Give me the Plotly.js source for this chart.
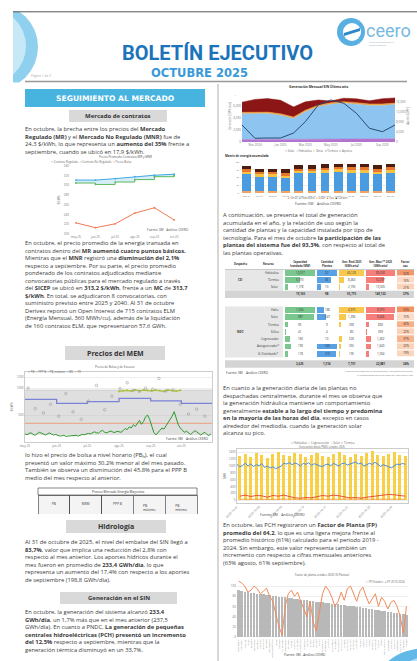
<!DOCTYPE html>
<html><head><meta charset="utf-8">
<script src="https://cdn.plot.ly/plotly-3.0.1.min.js"></script>
<style>html,body{margin:0;padding:0;background:#fff;overflow:hidden}#chart{width:417px;height:661px}</style>
</head><body><div id="chart"></div>
<script>
// ---------------- DATA ----------------
// Chart 1: contratos
const contractMonths=['may-25','jun-25','jul-25','ago-25','sep-25','oct-25'];
const mrPrice=[311,311,314,318,321,323];
const mnrPrice=[305,302,307,312,318,320];
const bolsaPrice=[223,213,221,243,254,229];

// Chart 2: precios MEM
const pbDaily=[150,135,160,170,140,125,155,180,165,140,130,150,170,145,130,140,
120,110,115,125,105,110,120,115,130,125,110,120,140,135,150,
160,150,175,190,170,165,200,215,180,170,190,205,185,175,200,
190,180,210,250,230,280,260,320,290,350,400,330,380,470,500,420,
300,180,130,170,220,260,240,300,350,420,480,563,450,320,260,
220,180,200,160,140,170,210,190,150,130,160,180,140,120,150];
const mcMonths=['2025-05-01','2025-06-01','2025-07-01','2025-08-01','2025-09-01','2025-10-01','2025-10-31'];
const mcValues=[793,719,750,812,762,719,719];
const memTickLabels=['may-25','jun-25','jul-25','ago-25','sep-25','oct-25'];
const peDates=['2025-05-01','2025-10-31'];
const peValues=[347,347];
const bandDates=['2025-05-01','2025-10-31'];
const bandLow=[130,130];
const bandHigh=[965,965];
const pbMaxDates=['2025-05-04','2025-05-11','2025-05-19','2025-05-26','2025-06-03','2025-06-10','2025-06-17','2025-06-25','2025-07-02','2025-07-10','2025-07-18','2025-07-25','2025-08-02','2025-08-09','2025-08-15','2025-08-21','2025-08-27','2025-09-03','2025-09-09','2025-09-16','2025-09-23','2025-09-30','2025-10-08','2025-10-16','2025-10-24'];
const pbMaxValues=[1000,620,540,700,480,900,560,420,760,1050,600,850,990,1100,960,940,1000,980,1180,950,970,700,520,610,480];
const pppDates=['2025-08-01','2025-08-05','2025-08-09','2025-08-13','2025-08-17','2025-08-21','2025-08-25','2025-08-29','2025-09-02','2025-09-06','2025-09-10','2025-09-14','2025-09-18','2025-09-22','2025-09-26','2025-09-30'];
const pppValues=[940,955,960,945,970,950,965,958,948,962,955,940,968,952,945,960];

// MEM table
const memTableHeader=['PB','MEM','PPP B','PB máximo','PB mínimo'];
const memTableValues=['317,62 $/kWh','301,35 $/kWh','193,33 $/kWh','551,88 $/kWh','180,90 $/kWh'];

// Chart 3: generación mensual SIN
const genMonths=['2024-10-01','2024-11-01','2024-12-01','2025-01-01','2025-02-01','2025-03-01','2025-04-01','2025-05-01','2025-06-01','2025-07-01','2025-08-01','2025-09-01','2025-10-01'];
const genSolar=[420,440,450,460,470,480,500,510,520,530,540,550,560];
const genHydro=[4280,4280,4280,4000,3450,4550,5380,5780,5950,5780,5550,5550,5670];
const genOther=[250,250,250,250,250,250,250,250,250,250,250,250,250];
const genThermal=[1680,2130,2250,2250,1680,1420,870,300,580,630,530,870,870];
const aportesMonthly=[6800,1480,1600,1600,3600,8120,14800,16800,15480,11480,5480,4120,6800];

// Chart 4: matriz acumulada (barras apiladas)
const barMonths=['nov-24','dic-24','ene-25','feb-25','mar-25','abr-25','may-25','jun-25','jul-25','ago-25','sep-25','oct-25'];
const barOtras=[5,5,5,5,5,5,5,5,5,5,5,5];
const barHidraulica=[55,48,48,42,58,58,61,63,61,61,55,61];
const barSolar=[8,8,8,9,8,8,8,8,9,9,9,9];
const barGas=[8,8,8,9,8,8,8,9,9,9,9,8];
const barCarbon=[10,10,10,11,10,10,10,10,11,11,11,10];

// Table (plantas)
const tableHeader=['Despacho','Recurso','Capacidad<br>Instalada [MW]','Cantidad<br>Plantas','Gen. Real 2025<br>[GWh-año]','Gen. Max.** 2025<br>[GWh-año]','Factor<br>uso'];
const recursoCD=['Hidráulica','Térmica','Solar'];
const capCD=[12017,5970,1178];
const plantasCD=[52,36,10];
const genRealCD=[45120,8460,2195];
const genMaxCD=[86500,52297,10325];
const factorCD=[52,16,21];
const factorTotalCD=37;
const recursoNDC=['Hidro','Solar','Térmica','Eólica','Cogenerador','Autogenerador*','G. Distribuido*'];
const capNDC=[1034,987,95,41,160,190,118];
const plantasNDC=[186,247,9,4,13,545,510];
const genRealNDC=[4975,1296,330,80,520,355,195];
const genMaxNDC=[8970,8646,830,359,1402,1640,1034];
const factorNDC=[55,15,40,22,37,22,19];
const factorTotalNDC=34;

// Chart 5: generación diaria PNDC
const solarPeak=[1300,1350,1280,1380,1320,1250,1360,1400,1310,1290,1370,1340,1260,1330,1390,1300,1280,1350,1420,1320,1270,1360,1300,1380,1450,1310,1290,1340,1400,1330,1300];
const hydroHalfDaily=[1050,980,1020,1080,1000,1060,990,1040,1010,1070,960,1000,940,980,920,960,1000,1080,1060,1100,1040,1090,1060,1000,1080,1050,1100,1020,1070,1040,1000,990,1040,1060,1010,1080,1050,1000,1070,1090,1030,1060,1100,1120,1060,1090,1000,1040,1080,1050,1110,1060,990,1040,1000,980,950,1000,1060,1040,1080,1050];
const thermalDaily=[120,150,110,140,130,90,140,120,150,100,70,60,80,70,110,140,120,150,130,90,70,80,60,90,110,130,150,170,160,140,120];
const cogenDaily=[30,35,28,32,30,25,33,30,28,35,30,27,32,29,31,34,30,28,33,30,29,32,30,28,31,33,30,29,32,31,30];

// Chart 6: factor de planta PCH
const plantNames=['Agua Fresca','Alejandría','Amaime','Ayurá','Barroso','Bajo Tuluá','Caruquia','Cucuana','El Molino','El Popal','Guanaquitas','Hidromontañitas','Ínsula','Karmata','La Cascada','La Herradura','La Vuelta','Luzma I','Luzma II','Mirolindo','Montañitas','Mulatos II','Nariño','Niquía','Palmas','Pajarito','Patico','Providencia','Riogrande I','Río Frío','Río Piedras','Rionegro','San Antonio','San Cancio','San José','San Matías','Santa Ana','Santa Rita','Santiago','Sonsón','Sueva II','Tunjita','Urrao','Ventana A','Ventana B','Caracolí','Coello','Darío Valencia','Esmeralda','Florida II','Guacaica','Intermedia','Juan García','Laguneta','Cemex'];
const fpHist=[92,91,89,88,87,86,85,84,84,83,82,81,80,79,78,78,77,76,75,74,73,73,72,71,70,69,69,68,67,66,65,65,64,63,62,61,60,60,59,58,57,56,55,55,54,53,52,51,50,49,48,47,46,45,43];
const fpOct=[110,106,100,88,92,100,95,85,90,96,80,70,45,20,4,60,85,92,80,88,70,55,40,70,30,12,50,85,100,92,78,60,70,88,72,95,100,86,70,90,98,80,65,75,85,60,78,70,55,68,72,60,40,8,60];

// ---------------- HELPERS ----------------
const W=417,H=661;
const X=p=>p/W, Y=p=>1-p/H;
const dom=(a,b)=>[X(a),X(b)];
const domY=(top,bot)=>[Y(bot),Y(top)];
const FONT='Open Sans';
const TXT='#3a3a3a';
const tf=(s,c)=>({family:FONT,size:s,color:c||'#777'});
function ax(o){return Object.assign({showgrid:false,zeroline:false,showline:false,ticks:'',tickfont:tf(3),fixedrange:true,automargin:false},o);}
function T(x,y,text,o){return Object.assign({xref:'paper',yref:'paper',x:X(x),y:Y(y),text:text,showarrow:false,font:tf(5.8,TXT),xanchor:'left',yanchor:'middle',align:'left',borderpad:0,borderwidth:0},o||{});}
function para(x,top,lines){return T(x,top,lines.join('<br>'),{yanchor:'top'});}
function leg(x,y,items,anchor){return T(x,y,items.map(it=>`<span style="color:${it[0]}">${it[2]||'━'}</span> ${it[1]}`).join('  '),{font:tf(2.8,'#666'),xanchor:anchor||'left'});}
function box(x0,y0,x1,y1,fill,lineColor){return {type:'rect',xref:'paper',yref:'paper',x0:X(x0),x1:X(x1),y0:Y(y0),y1:Y(y1),fillcolor:fill,line:{width:lineColor?0.6:0,color:lineColor||fill}};}
const fmt=v=>v.toLocaleString('en-US');
const sum=a=>a.reduce((s,v)=>s+v,0);

const traces=[];
const layout={width:W,height:H,margin:{l:0,r:0,t:0,b:0},paper_bgcolor:'#fff',plot_bgcolor:'rgba(0,0,0,0)',
  showlegend:false,barmode:'stack',bargap:0.2,font:{family:FONT,size:4,color:'#555'},shapes:[],annotations:[]};
const S=layout.shapes, A=layout.annotations;

// ---------------- CHART 1 ----------------
traces.push({type:'scatter',mode:'lines+markers',x:contractMonths,y:mnrPrice,xaxis:'x',yaxis:'y',line:{color:'#5cb85c',width:1,shape:'hv'},marker:{size:1.8}});
traces.push({type:'scatter',mode:'lines+markers',x:contractMonths,y:mrPrice,xaxis:'x',yaxis:'y',line:{color:'#3fa9e0',width:1},marker:{size:1.8},fill:'tonexty',fillcolor:'rgba(140,205,240,0.35)'});
traces.push({type:'scatter',mode:'lines+markers',x:contractMonths,y:bolsaPrice,xaxis:'x',yaxis:'y',line:{color:'#f07a55',width:1},marker:{size:1.8}});
layout.xaxis=ax({domain:dom(70,180),anchor:'y',type:'category',range:[-0.3,5.3]});
layout.yaxis=ax({domain:domY(166,234),anchor:'x',range:[200,340],dtick:20,title:{text:'$/kWh',font:tf(3),standoff:3}});
A.push(T(125,157,'Precio Promedio Contratos MR y MNR',{font:tf(3,'#555'),xanchor:'center'}));
A.push(leg(50,162.5,[['#3fa9e0','Contrato Regulado'],['#5cb85c','Contrato No Regulado'],['#f07a55','Precio Bolsa']]));
A.push(T(168,230,'Fuente: XM   Análisis CEERO',{font:tf(3.2,'#555'),xanchor:'center'}));

// ---------------- CHART 2 (MEM) ----------------
const memDates=pbDaily.map((_,i)=>new Date(Date.UTC(2025,4,1)+i*2*864e5).toISOString().slice(0,10));
traces.push({type:'scatter',mode:'lines',x:bandDates,y:bandLow,xaxis:'x2',yaxis:'y2',line:{width:0,color:'#bbb'}});
traces.push({type:'scatter',mode:'lines',x:bandDates,y:bandHigh,xaxis:'x2',yaxis:'y2',line:{width:0.5,color:'#bbb'},fill:'tonexty',fillcolor:'rgba(185,185,185,0.45)'});
traces.push({type:'scatter',mode:'lines',x:mcMonths,y:mcValues,xaxis:'x2',yaxis:'y2',line:{color:'#7b83d9',width:1.3,shape:'hv'}});
traces.push({type:'scatter',mode:'lines',x:peDates,y:peValues,xaxis:'x2',yaxis:'y2',line:{color:'#ee8f6a',width:0.8}});
traces.push({type:'scatter',mode:'lines+markers',x:pppDates,y:pppValues,xaxis:'x2',yaxis:'y2',line:{color:'#a8c23a',width:1.2},marker:{size:2,color:'#a8c23a'}});
traces.push({type:'scatter',mode:'markers',x:pbMaxDates,y:pbMaxValues,xaxis:'x2',yaxis:'y2',marker:{size:2.5,color:'rgba(0,0,0,0)',line:{color:'#999',width:0.6}}});
traces.push({type:'scatter',mode:'lines',x:memDates,y:pbDaily,xaxis:'x2',yaxis:'y2',line:{color:'#2e9a2e',width:1}});
layout.xaxis2=ax({domain:dom(25,212),anchor:'y2',type:'date',range:['2025-05-01','2025-10-31'],tickvals:mcMonths.slice(0,6),ticktext:memTickLabels,showline:true,linecolor:'#ccc',mirror:true});
layout.yaxis2=ax({domain:domY(372,442),anchor:'x2',range:[0,1300],tickvals:[500,1000,1200],showgrid:true,gridcolor:'#eee',showline:true,linecolor:'#ccc',mirror:true,title:{text:'$/kWh',font:tf(3),standoff:3}});
A.push(T(115,367,'Precio de Bolsa y de Escasez',{font:tf(3,'#555'),xanchor:'center'}));
A.push(leg(27,371.5,[['#2e9a2e','PB'],['#a8c23a','PPP B'],['#999','PB_máximo','○'],['#7b83d9','MC'],['#ee8f6a','PE']]));
A.push(T(208,439.5,'Fuente: XM    Análisis CEERO',{font:tf(3.2,'#444'),xanchor:'right',bgcolor:'#fff'}));

// MEM table
traces.push({type:'table',domain:{x:dom(38,197),y:domY(495,515)},
  header:{values:memTableHeader,height:12,align:'center',font:tf(3.3,'#333'),fill:{color:'#f4f4f4'},line:{color:'#333',width:0.6}},
  cells:{values:memTableValues.map(v=>[v]),height:7,align:'center',font:tf(3.2,'#333'),fill:{color:'#fff'},line:{color:'#333',width:0.6}}});
S.push(box(38,488,197,495,'#fff','#333'));
A.push(T(117.5,491.5,'Precios Mercado Energía Mayorista',{font:tf(3.2,'#333'),xanchor:'center'}));

// ---------------- CHART 3 (Gen mensual) ----------------
const genCols=['#b374cf','#8ec5f0','#f3a33b','#8c1515'];
[genSolar,genHydro,genOther,genThermal].forEach((s,i)=>traces.push({type:'scatter',mode:'lines',x:genMonths,y:s,xaxis:'x3',yaxis:'y3',stackgroup:'g',line:{width:0.5,color:genCols[i]},fillcolor:genCols[i]}));
traces.push({type:'scatter',mode:'lines',x:genMonths,y:aportesMonthly,xaxis:'x3',yaxis:'y4',line:{color:'#2b4a73',width:1}});
layout.xaxis3=ax({domain:dom(242,395),anchor:'y3',type:'date',range:['2024-10-01','2025-10-01'],dtick:'M2',tickformat:'%b %Y'});
layout.yaxis3=ax({domain:domY(90,142),anchor:'x3',range:[0,8667],dtick:2000,tickformat:',',showgrid:true,gridcolor:'#eee',title:{text:'Generación [GWh-mes]',font:tf(2.6),standoff:2}});
layout.yaxis4=ax({domain:domY(90,142),anchor:'x3',overlaying:'y3',side:'right',range:[0,20800],dtick:4000,tickformat:',',title:{text:'Aportes [GWh]',font:tf(2.6),standoff:2}});
A.push(T(318,87,'<b>Generación Mensual SIN Último año</b>',{font:tf(3.3,'#333'),xanchor:'center'}));
A.push(leg(318,151,[['#b374cf','Solar'],['#8ec5f0','Hidráulica'],['#f3a33b','Otras'],['#8c1515','Térmica'],['#2b4a73','Aportes']],'center'));

// ---------------- CHART 4 (bars) ----------------
const barCols=['#f4a261','#4a9be0','#f6c244','#e8772e','#4b1d12'];
[barOtras,barHidraulica,barSolar,barGas,barCarbon].forEach((s,i)=>traces.push({type:'bar',x:barMonths,y:s,xaxis:'x4',yaxis:'y5',width:0.68,marker:{color:barCols[i]}}));
layout.xaxis4=ax({domain:dom(240,397),anchor:'y5',type:'category',tickfont:tf(2.5)});
layout.yaxis5=ax({domain:domY(162,193),anchor:'x4',range:[0,100],dtick:25,showgrid:true,gridcolor:'#eee',tickfont:tf(2.5)});
A.push(T(225,156,'<b>Matriz de energía acumulada</b>',{font:tf(3,'#333')}));
A.push(leg(318,198,[['#f4a261','Otras','■'],['#4a9be0','Hidráulica','■'],['#f6c244','Solar','■'],['#e8772e','Gas','■'],['#4b1d12','Carbón','■']],'center'));
A.push(T(318,203,'Fuente: XM    Análisis CEERO',{font:tf(3.5,'#444'),xanchor:'center'}));

// ---------------- TABLE ----------------
const colDefs=[{x0:285,x1:315,c:'rgba(99,190,123,0.85)'},{x0:317,x1:337,c:'rgba(60,145,225,0.85)'},{x0:339,x1:364,c:'rgba(247,194,60,0.9)'},{x0:366,x1:395,c:'rgba(244,105,100,0.85)'}];
const factorCol={x0:397,x1:414};
const headerCenters=[240,268,300,327,351.5,380.5,405.5];
tableHeader.forEach((h,i)=>A.push(T(headerCenters[i],264,'<b>'+h+'</b>',{font:tf(2.7,'#333'),xanchor:'center',align:'center'})));
S.push({type:'line',xref:'paper',yref:'paper',x0:X(225),x1:X(414),y0:Y(269.5),y1:Y(269.5),line:{color:'#999',width:0.5}});
const sections=[
  {name:'CD',yax:'y6',dom:[269.5,298],range:[3.51,-0.5],rec:recursoCD,cols:[capCD,plantasCD,genRealCD,genMaxCD],fac:factorCD,facT:factorTotalCD,tot:3,xs:5},
  {name:'NDC',yax:'y7',dom:[306.3,368],range:[7.95,-0.5],rec:recursoNDC,cols:[capNDC,plantasNDC,genRealNDC,genMaxNDC],fac:factorNDC,facT:factorTotalNDC,tot:7.4,xs:10}
];
sections.forEach(sec=>{
  const n=sec.rec.length, idx=sec.rec.map((_,i)=>i);
  layout['yaxis'+sec.yax.slice(1)]={domain:domY(sec.dom[0],sec.dom[1]),range:sec.range,visible:false,fixedrange:true};
  S.push({type:'rect',xref:'paper',yref:sec.yax,x0:X(225),x1:X(283),y0:-0.5,y1:n-0.5,fillcolor:'#e7e7e7',line:{width:0},layer:'below'});
  S.push({type:'rect',xref:'paper',yref:sec.yax,x0:X(225),x1:X(414),y0:sec.tot-0.5,y1:sec.tot+0.5,fillcolor:'#d4d4d4',line:{width:0},layer:'below'});
  sec.cols.forEach((vals,j)=>{
    const id=sec.xs+j, cd=colDefs[j];
    layout['xaxis'+id]={domain:dom(cd.x0,cd.x1),range:[0,Math.max(...vals)],visible:false,fixedrange:true,anchor:sec.yax};
    traces.push({type:'bar',orientation:'h',x:vals,y:idx,xaxis:'x'+id,yaxis:sec.yax,width:0.8,marker:{color:cd.c}});
    vals.forEach((v,i)=>A.push({xref:'paper',yref:sec.yax,x:X((cd.x0+cd.x1)/2),y:i,text:fmt(v),showarrow:false,font:tf(2.9,'#333'),xanchor:'center',yanchor:'middle'}));
    A.push({xref:'paper',yref:sec.yax,x:X((cd.x0+cd.x1)/2),y:sec.tot,text:'<b>'+fmt(sum(vals))+'</b>',showarrow:false,font:tf(2.9,'#333'),xanchor:'center',yanchor:'middle'});
  });
  const fid=sec.xs+4;
  layout['xaxis'+fid]={domain:dom(factorCol.x0,factorCol.x1),range:[-0.5,0.5],visible:false,fixedrange:true,anchor:sec.yax};
  traces.push({type:'heatmap',z:sec.fac.map(v=>[v]),x:[0],y:idx,xaxis:'x'+fid,yaxis:sec.yax,zmin:0,zmax:60,showscale:false,ygap:1,
    colorscale:[[0,'#fff4ec'],[0.5,'#f9c4a4'],[1,'#ef8a57']],texttemplate:'%{z}%',textfont:tf(2.9,'#333')});
  A.push({xref:'paper',yref:sec.yax,x:X(405.5),y:sec.tot,text:'<b>'+sec.facT+'%</b>',showarrow:false,font:tf(2.9,'#333'),xanchor:'center',yanchor:'middle'});
  sec.rec.forEach((r,i)=>A.push({xref:'paper',yref:sec.yax,x:X(281),y:i,text:r,showarrow:false,font:tf(2.9,'#333'),xanchor:'right',yanchor:'middle'}));
  A.push({xref:'paper',yref:sec.yax,x:X(240),y:(n-1)/2,text:'<b>'+sec.name+'</b>',showarrow:false,font:tf(3,'#333'),xanchor:'center',yanchor:'middle'});
});
A.push(T(226,373,'Fuente: XM    Análisis CEERO',{font:tf(3.2,'#444')}));
A.push(T(414,371.5,'* Energía entregada por autogeneradores y generación distribuida',{font:tf(2.2,'#777'),xanchor:'right'}));
A.push(T(414,375.5,'** Considerando factor de planta del 100% para el año',{font:tf(2.2,'#777'),xanchor:'right'}));

// ---------------- CHART 5 (daily) ----------------
const dayNoon=solarPeak.map((_,i)=>new Date(Date.UTC(2025,9,1+i,12)).toISOString());
const halfDay=hydroHalfDaily.map((_,i)=>new Date(Date.UTC(2025,9,1)+i*12*3600e3).toISOString());
traces.push({type:'bar',x:dayNoon,y:solarPeak,xaxis:'x17',yaxis:'y8',width:0.55*864e5,marker:{color:'#f7d046'}});
traces.push({type:'scatter',mode:'lines',x:halfDay,y:hydroHalfDaily,xaxis:'x17',yaxis:'y8',line:{color:'#4a8fdb',width:1}});
traces.push({type:'scatter',mode:'lines',x:dayNoon,y:thermalDaily,xaxis:'x17',yaxis:'y8',line:{color:'#e8412c',width:0.9}});
traces.push({type:'scatter',mode:'lines',x:dayNoon,y:cogenDaily,xaxis:'x17',yaxis:'y8',line:{color:'#f39c34',width:0.9}});
layout.xaxis17=ax({domain:dom(237,408),anchor:'y8',type:'date',range:['2025-10-01','2025-11-01'],tick0:'2025-10-01',dtick:4*864e5,tickformat:'%Y-%m-%d',tickangle:-45,showline:true,linecolor:'#ccc',mirror:true});
layout.yaxis8=ax({domain:domY(449,503),anchor:'x17',range:[-80,1500],tickvals:[0,200,400,600,800,1000,1200,1400],showgrid:true,gridcolor:'#eee',showline:true,linecolor:'#ccc',mirror:true,title:{text:'MW',font:tf(3),standoff:2}});
A.push(leg(322,442.5,[['#4a8fdb','Hidráulica'],['#f39c34','Cogeneración'],['#f7d046','Solar'],['#e8412c','Térmica']],'center'));
A.push(T(322,446.5,'Generación diaria PNDC octubre 2025',{font:tf(2.6,'#666'),xanchor:'center'}));
A.push(T(282,514,'Fuente: XM    Análisis CEERO',{font:tf(3.4,'#444'),xanchor:'center'}));

// ---------------- CHART 6 (FP) ----------------
traces.push({type:'bar',x:plantNames,y:fpHist,xaxis:'x18',yaxis:'y9',width:0.8,marker:{color:'#b8b8b8'}});
traces.push({type:'scatter',mode:'lines',x:plantNames,y:fpOct,xaxis:'x18',yaxis:'y9',line:{color:'#f28a5a',width:1}});
layout.xaxis18=ax({domain:dom(237,408),anchor:'y9',type:'category',tickangle:-90,tickfont:tf(2.3,'#777')});
layout.yaxis9=ax({domain:domY(580,638),anchor:'x18',range:[-2,112],tickvals:[0,20,40,60,80,100],ticksuffix:'%',showgrid:true,gridcolor:'#eee'});
A.push(T(322,574.5,'Factor de planta octubre 2025 (% Plantas)',{font:tf(2.8,'#555'),xanchor:'center'}));
A.push(leg(405,582,[['#f28a5a','FP Octubre'],['#b8b8b8','FP 2019-2024','■']],'right'));
A.push(T(305,655,'Fuente: XM - Análisis CEERO',{font:tf(3.2,'#444'),xanchor:'center'}));

// ---------------- PAGE DECORATION & HEADER ----------------
S.push({type:'circle',xref:'paper',yref:'paper',x0:X(-48),x1:X(38),y0:Y(90),y1:Y(4),fillcolor:'#8fd0ee',line:{width:0}});
S.push({type:'circle',xref:'paper',yref:'paper',x0:X(-50),x1:X(26),y0:Y(84),y1:Y(8),fillcolor:'#c6e8f7',line:{width:0}});
S.push({type:'rect',xref:'paper',yref:'paper',x0:0,x1:X(13),y0:Y(95),y1:1,fillcolor:'#fff',line:{width:0}});
S.push({type:'rect',xref:'paper',yref:'paper',x0:0,x1:1,y0:Y(11.5),y1:1,fillcolor:'#fff',line:{width:0}});
S.push({type:'line',xref:'paper',yref:'paper',x0:X(13),x1:1,y0:Y(11.8),y1:Y(11.8),line:{color:'#555',width:1}});
S.push({type:'rect',xref:'paper',yref:'paper',x0:0,x1:1,y0:Y(95),y1:Y(82.5),fillcolor:'#fff',line:{width:0}});
S.push({type:'line',xref:'paper',yref:'paper',x0:X(25),x1:X(407),y0:Y(81.5),y1:Y(81.5),line:{color:'#999',width:1.3}});
// logo
S.push({type:'circle',xref:'paper',yref:'paper',x0:X(337),x1:X(365),y0:Y(46),y1:Y(18),fillcolor:'#5aafe2',line:{width:0}});
S.push({type:'circle',xref:'paper',yref:'paper',x0:X(343),x1:X(361),y0:Y(41),y1:Y(23),fillcolor:'#ffffff',line:{width:0}});
S.push({type:'path',xref:'paper',yref:'paper',path:`M ${X(344)} ${Y(33)} L ${X(360)} ${Y(28)} L ${X(360)} ${Y(31)} L ${X(344)} ${Y(36)} Z`,fillcolor:'#2f86c9',line:{width:0}});
A.push(T(366,30,'ceero',{font:{family:'Roboto',size:18,color:'#79b9e0'}}));
A.push(T(369,44,'Centro de Estudios para la<br>Energía Renovable',{font:tf(2,'#9ab'),align:'left'}));
// bottom-right swoosh
S.push({type:'circle',xref:'paper',yref:'paper',x0:X(372),x1:X(480),y0:Y(740),y1:Y(648),fillcolor:'#62b9e8',line:{width:0}});
S.push({type:'circle',xref:'paper',yref:'paper',x0:X(385),x1:X(480),y0:Y(740),y1:Y(656),fillcolor:'#b5e0f5',line:{width:0}});
// divider
S.push({type:'line',xref:'paper',yref:'paper',x0:X(218),x1:X(218),y0:Y(84),y1:0,line:{color:'#9a9a9a',width:0.8}});

A.push(T(217,52.5,'<b>BOLETÍN EJECUTIVO</b>',{font:{family:'Roboto',size:20,color:'#1b74bb'},xanchor:'center'}));
A.push(T(199,73,'<b>OCTUBRE 2025</b>',{font:{family:'DejaVu Sans',size:11.5,color:'#3a99d8'},xanchor:'center'}));
A.push(T(31,76,'Página 1 de 2',{font:tf(3.2,'#aaa')}));

// section boxes
S.push(box(25,89,205,107,'#47b3df'));
A.push(T(115,98.5,'<b>SEGUIMIENTO AL MERCADO</b>',{font:{family:'DejaVu Sans',size:7.6,color:'#fff'},xanchor:'center'}));
S.push(box(69,110,167,122,'#d9d9d9'));
A.push(T(118,116.3,'<b>Mercado de contratos</b>',{font:tf(6,'#333'),xanchor:'center'}));
S.push(box(65,346,165,360,'#d9d9d9'));
A.push(T(115,353.2,'<b>Precios del MEM</b>',{font:tf(7,'#333'),xanchor:'center'}));
S.push(box(66,520,166,533,'#d9d9d9'));
A.push(T(116,526.7,'<b>Hidrología</b>',{font:tf(7,'#333'),xanchor:'center'}));
S.push(box(60,592,177,604,'#d9d9d9'));
A.push(T(118.5,598,'<b>Generación en el SIN</b>',{font:tf(6,'#333'),xanchor:'center'}));

// paragraphs
A.push(para(25,124.5,[
'En octubre, la brecha entre los precios del <b>Mercado</b>',
'<b>Regulado (MR)</b> y el <b>Mercado No Regulado (MNR)</b> fue de',
'24,3 $/kWh, lo que representa un <b>aumento del 35%</b> frente a',
'septiembre, cuando se ubicó en 17,9 $/kWh.']));
A.push(para(25,239,[
'En octubre, el precio promedio de la energía transada en',
'contratos dentro del <b>MR aumentó cuatro puntos básicos.</b>',
'Mientras que el <b>MNR</b> registró una <b>disminución del 2,1%</b>',
'respecto a septiembre. Por su parte, el precio promedio',
'ponderado de los contratos adjudicados mediante',
'convocatorias públicas para el mercado regulado a través',
'del <b>SICEP</b> se ubicó en <b>313,2 $/kWh</b>, frente a un <b>MC</b> de <b>313,7</b>',
'<b>$/kWh</b>. En total, se adjudicaron 8 convocatorias, con',
'suministro previsto entre 2025 y 2040. Al 31 de octubre',
'Derivex reportó un Open Interest de 715 contratos ELM',
'(Energía Mensual, 360 MWh/cu), además de la liquidación',
'de 160 contratos ELM, que representaron 57,6 GWh.']));
A.push(para(25,450.5,[
'lo hizo el precio de bolsa a nivel horario (PB<sub>h</sub>), el cual',
'presentó un valor máximo 30,2% menor al del mes pasado.',
'También se observa un disminución del 45,8% para el PPP B',
'medio del mes respecto al anterior.']));
A.push(para(25,538,[
'Al 31 de octubre de 2025, el nivel del embalse del SIN llegó a',
'<b>83,7%</b>, valor que implica una reducción del 2,8% con',
'respecto al mes anterior. Los aportes hídricos durante el',
'mes fueron en promedio de <b>233,4 GWh/día</b>, lo que',
'representa un aumento del 17,4% con respecto a los aportes',
'de septiembre (198,8 GWh/día).']));
A.push(para(25,608,[
'En octubre, la generación del sistema alcanzó <b>233,4</b>',
'<b>GWh/día</b>, un 1,7% más que en el mes anterior (237,5',
'GWh/día). En cuanto a PNDC, <b>La generación de pequeñas</b>',
'<b>centrales hidroeléctricas (PCH) presentó un incremento</b>',
'<b>del 12,5%</b> respecto a septiembre, mientras que la',
'generación térmica disminuyó en un 33,7%.']));
A.push(para(223,211.3,[
'A continuación, se presenta el total de generación',
'acumulada en el año, y la relación de uso según la',
'cantidad de plantas y la capacidad instalada por tipo de',
'tecnología. Para el mes de octubre <b>la participación de las</b>',
'<b>plantas del sistema fue del 93,3%</b>, con respecto al total de',
'las plantas operativas.']));
A.push(para(223,384.3,[
'En cuanto a la generación diaria de las plantas no',
'despachadas centralmente, durante el mes se observa que',
'la generación hidráulica mantiene un comportamiento',
'generalmente <b>estable a lo largo del tiempo y predomina</b>',
'<b>en la mayoría de las horas del día</b>, excepto en casos',
'alrededor del mediodía, cuando la generación solar',
'alcanza su pico.']));
A.push(para(223,520.5,[
'En octubre, las PCH registraron un <b>Factor de Planta (FP)</b>',
'<b>promedio del 64,2</b>, lo que es una ligera mejora frente al',
'promedio histórico (61%) calculado para el periodo 2019 -',
'2024. Sin embargo, este valor representa también un',
'incremento con respecto a cifras mensuales anteriores',
'(63% agosto, 61% septiembre).']));

Plotly.newPlot('chart',traces,layout,{staticPlot:true,displayModeBar:false});
</script></body></html>
